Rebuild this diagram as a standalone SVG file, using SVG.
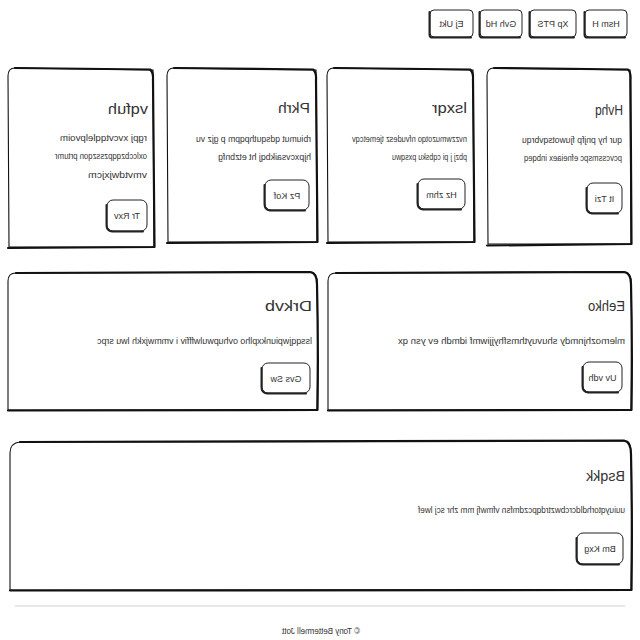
<svg xmlns="http://www.w3.org/2000/svg" width="640" height="640" viewBox="0 0 640 640">
<style>
.card{fill:#fff;stroke:#111;stroke-width:1.1}
.edge{fill:none;stroke:#111;stroke-width:2.2;stroke-linecap:round;stroke-linejoin:round}
.btn{fill:#fff;stroke:#222;stroke-width:1}
.sh{fill:none;stroke:#222;stroke-width:2;stroke-linecap:round}
.t{font-family:"Liberation Sans Narrow","Liberation Sans",Arial,sans-serif;fill:#333}
.ti{font-size:15px}
.bd{font-size:9px}
.bt{font-size:9px;text-anchor:middle}
</style>
<rect width="640" height="640" fill="#fff"/>
<g transform="translate(640 0) scale(-1 1)">
  <g id="connectors"/>
  <!-- top buttons -->
  <g id="btn-1">
    <rect class="btn" x="13" y="10" width="42" height="27" rx="4"/>
    <path class="sh" d="M15 37.5 L54 37.5 Q55.5 37 55.5 35 L55.5 12"/>
    <text class="t bt" x="34" y="27">Hsm H</text>
  </g>
  <g id="btn-2">
    <rect class="btn" x="64" y="10" width="46" height="27" rx="4"/>
    <path class="sh" d="M66 37.5 L109 37.5 Q110.5 37 110.5 35 L110.5 12"/>
    <text class="t bt" x="87" y="27">Xp PTS</text>
  </g>
  <g id="btn-3">
    <rect class="btn" x="118" y="10" width="42" height="27" rx="4"/>
    <path class="sh" d="M120 37.5 L159 37.5 Q160.5 37 160.5 35 L160.5 12"/>
    <text class="t bt" x="139" y="27">Gvh Hd</text>
  </g>
  <g id="btn-4">
    <rect class="btn" x="167" y="10" width="43" height="27" rx="4"/>
    <path class="sh" d="M169 37.5 L209 37.5 Q210.5 37 210.5 35 L210.5 12"/>
    <text class="t bt" x="188.5" y="27">Ej Ukt</text>
  </g>

  <!-- card A -->
  <g id="card-hvhq">
    <path class="card" d="M10 70 L146 68 Q153 68 153 76 L152 244 L9 244 Z"/>
    <path class="edge" d="M146 68 L12 69.5 Q9 72 9.5 80 L8.5 244 L153 245.5"/>
    <text class="t ti" x="17" y="115" textLength="28" lengthAdjust="spacingAndGlyphs">Hvhq</text>
    <text class="t bd" x="18" y="143" textLength="100" lengthAdjust="spacingAndGlyphs">qur hy pnjfp fjuwotsqvbrqu</text>
    <text class="t bd" x="18" y="161" textLength="98" lengthAdjust="spacingAndGlyphs">pcvcssmspc efneiaex inbqeq</text>
    <rect class="btn" x="18" y="183" width="35" height="30" rx="6"/>
    <path class="sh" d="M22 213.5 L48 213.5 Q53.5 213 53.5 207 L53.5 188"/>
    <text class="t bt" x="35.5" y="202">It Tzi</text>
  </g>

  <!-- card B -->
  <g id="card-lsxqr">
    <path class="card" d="M167 70 L306 68 Q313 68 313 76 L312 242 L166 242 Z"/>
    <path class="edge" d="M306 68 L170 69.5 Q166.5 72 167 80 L165.5 242 L313 243"/>
    <text class="t ti" x="173" y="113" textLength="35" lengthAdjust="spacingAndGlyphs">lsxqr</text>
    <text class="t bd" x="173" y="142" textLength="115" lengthAdjust="spacingAndGlyphs">nvzzwmuzotqo nfvudesz tjemetcqv</text>
    <text class="t bd" x="173" y="160" textLength="75" lengthAdjust="spacingAndGlyphs">pbzj j pi cqbsku pxsqwu</text>
    <rect class="btn" x="175" y="179" width="47" height="30" rx="6"/>
    <path class="sh" d="M179 209.5 L217 209.5 Q222.5 209 222.5 203 L222.5 184"/>
    <text class="t bt" x="198.5" y="198">Hz zhm</text>
  </g>

  <!-- card C -->
  <g id="card-pkrh">
    <path class="card" d="M324 70 L466 68 Q473 68 473 76 L472 242 L323 242 Z"/>
    <path class="edge" d="M466 68 L327 69.5 Q323.5 72 324 80 L322.5 242 L473 243"/>
    <text class="t ti" x="330" y="113" textLength="32" lengthAdjust="spacingAndGlyphs">Pkrh</text>
    <text class="t bd" x="329" y="142" textLength="115" lengthAdjust="spacingAndGlyphs">rbiumut qdsquthpqpm p gjz vu</text>
    <text class="t bd" x="329" y="160" textLength="93" lengthAdjust="spacingAndGlyphs">hjpxcvsaikbqj ht etzbnfg</text>
    <rect class="btn" x="331" y="180" width="44" height="30" rx="6"/>
    <path class="sh" d="M335 210.5 L370 210.5 Q375.5 210 375.5 204 L375.5 185"/>
    <text class="t bt" x="353" y="199">Pz Kof</text>
  </g>

  <!-- card D -->
  <g id="card-vqfuh">
    <path class="card" d="M487 70 L625 68 Q632 68 632 76 L631 247 L486 247 Z"/>
    <path class="edge" d="M625 68 L490 69.5 Q486.5 72 487 80 L485.5 247 L632 248"/>
    <text class="t ti" x="492" y="114" textLength="40" lengthAdjust="spacingAndGlyphs">vqfuh</text>
    <text class="t bd" x="493" y="141" textLength="87" lengthAdjust="spacingAndGlyphs">rgpj xvcvtqqlelpvoim</text>
    <text class="t bd" x="493" y="159" textLength="92" lengthAdjust="spacingAndGlyphs">oxlccbzqqpzsszqon prtumr</text>
    <text class="t bd" x="493" y="178" textLength="59" lengthAdjust="spacingAndGlyphs">vmvtdwjxjcm</text>
    <rect class="btn" x="493" y="200" width="40" height="31" rx="6"/>
    <path class="sh" d="M497 231.5 L528 231.5 Q533.5 231 533.5 225 L533.5 205"/>
    <text class="t bt" x="513" y="219">Tr Rxv</text>
  </g>

  <!-- card E -->
  <g id="card-eehko">
    <path class="card" d="M14 272 L304 273 Q312 273 312 281 L312 410 L9 410 Q8 340 9 280 Q10 273 14 272 Z"/>
    <path class="edge" d="M304 273 L16 272 Q9 273 9 284 Q7.5 345 8.5 410 L312 410.5"/>
    <text class="t ti" x="15" y="311" textLength="37" lengthAdjust="spacingAndGlyphs">Eehko</text>
    <text class="t bd" x="15" y="344" textLength="227" lengthAdjust="spacingAndGlyphs">mlernozhjnmdy shuvuythmsfhyjjiwmf idmdh ev ysn qx</text>
    <rect class="btn" x="18" y="362" width="39" height="30" rx="6"/>
    <path class="sh" d="M22 392.5 L52 392.5 Q57.5 392 57.5 386 L57.5 367"/>
    <text class="t bt" x="37.5" y="381">Uv vdh</text>
  </g>

  <!-- card F -->
  <g id="card-drkvb">
    <path class="card" d="M328 272 L624 273 Q632 273 632 281 L632 410 L323 410 Q322 340 323 280 Q324 273 328 272 Z"/>
    <path class="edge" d="M624 273 L330 272 Q323 273 323 284 Q321.5 345 322.5 410 L632 410.5"/>
    <text class="t ti" x="328" y="311" textLength="47" lengthAdjust="spacingAndGlyphs">Drkvb</text>
    <text class="t bd" x="328" y="344" textLength="215" lengthAdjust="spacingAndGlyphs">lssqqjwpiunkxplho ovhupwulwfffiv i vmmwjxkh lwu srpc</text>
    <rect class="btn" x="330" y="363" width="48" height="30" rx="6"/>
    <path class="sh" d="M334 393.5 L373 393.5 Q378.5 393 378.5 387 L378.5 368"/>
    <text class="t bt" x="354" y="382">Gvs Sw</text>
  </g>

  <!-- card G -->
  <g id="card-bsqkk">
    <path class="card" d="M14 441 L620 442 Q630 443 630 453 L630 590 L9 590 Q8 520 9 450 Q10 441 14 441 Z"/>
    <path class="edge" d="M620 442 L16 440.5 Q9 442 9 454 Q7.5 520 8.5 590 L630 590.5"/>
    <text class="t ti" x="15" y="481" textLength="39" lengthAdjust="spacingAndGlyphs">Bsqkk</text>
    <text class="t bd" x="15" y="513" textLength="207" lengthAdjust="spacingAndGlyphs">uuiuyqtorhdldcrcbwztrdqpczdmfsn vfmwfj mm zhr scj lwef</text>
    <rect class="btn" x="17" y="533" width="46" height="31" rx="6"/>
    <path class="sh" d="M21 564.5 L58 564.5 Q63.5 564 63.5 558 L63.5 538"/>
    <text class="t bt" x="40" y="552">Bm Kxg</text>
  </g>

  <line x1="15" y1="606" x2="625" y2="606" stroke="#d0d0d0" stroke-width="1"/>
  <text class="t" x="280" y="634" font-size="9" fill="#444" textLength="78" lengthAdjust="spacingAndGlyphs">© Tony Bettermell Jott</text>
</g>
</svg>
